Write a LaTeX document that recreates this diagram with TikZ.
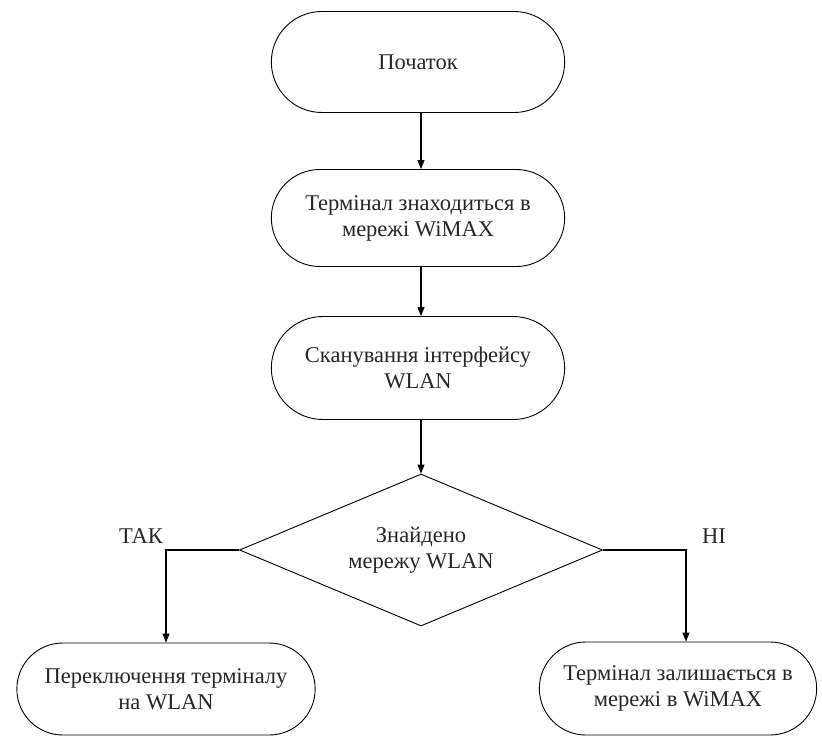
\documentclass[tikz,border=0pt]{standalone}
\usepackage{fontspec}
\setmainfont{Liberation Serif}
\newfontfamily\tnr{Liberation Serif}
\usetikzlibrary{shapes.misc,shapes.geometric,arrows.meta}
\begin{document}
\begin{tikzpicture}[x=1pt,y=1pt,
  txt/.style={font=\tnr\fontsize{22.5}{26}\selectfont, text=black!85},
  term/.style={txt, draw, line width=0.9pt, rounded rectangle, rounded rectangle arc length=180, align=center},
  dec/.style={txt, draw, line width=0.9pt, diamond, aspect=2.4, align=center, inner sep=0pt},
  conn/.style={line width=1.1pt, -{Triangle[length=9pt,width=7pt]}}]
\useasboundingbox (0,0) rectangle (822,-745);
\node[term, minimum width=300pt, minimum height=101pt] (start) at (418,-62) {Початок};
\node[term, minimum width=300pt, minimum height=97pt] (wimax) at (418,-218) {Термінал знаходиться в\\мережі WiMAX};
\node[term, minimum width=300pt, minimum height=103pt] (scan) at (418,-368) {Сканування інтерфейсу\\WLAN};
\node[dec, minimum width=363pt, minimum height=152pt] (found) at (421,-550) {Знайдено\\мережу WLAN};
\node[term, minimum width=305pt, minimum height=92pt] (sw) at (166,-689) {Переключення терміналу\\на WLAN};
\node[term, minimum width=284pt, minimum height=93pt] (stay) at (678,-688.5) {Термінал залишається в\\мережі в WiMAX};
\coordinate (lc) at (166,-550);
\coordinate (rc) at (686,-550);
\draw[conn] (start.south -| found.north) -- (wimax.north -| found.north);
\draw[conn] (wimax.south -| found.north) -- (scan.north -| found.north);
\draw[conn] (scan.south -| found.north) -- (found.north);
\draw[conn] (found.west) -- (lc) -- (lc |- sw.north);
\draw[conn] (found.east) -- (rc) -- (rc |- stay.north);
\node[txt] (yes) at (141,-536) {ТАК};
\node[txt] (no) at (714,-536) {НІ};
\end{tikzpicture}
\end{document}
